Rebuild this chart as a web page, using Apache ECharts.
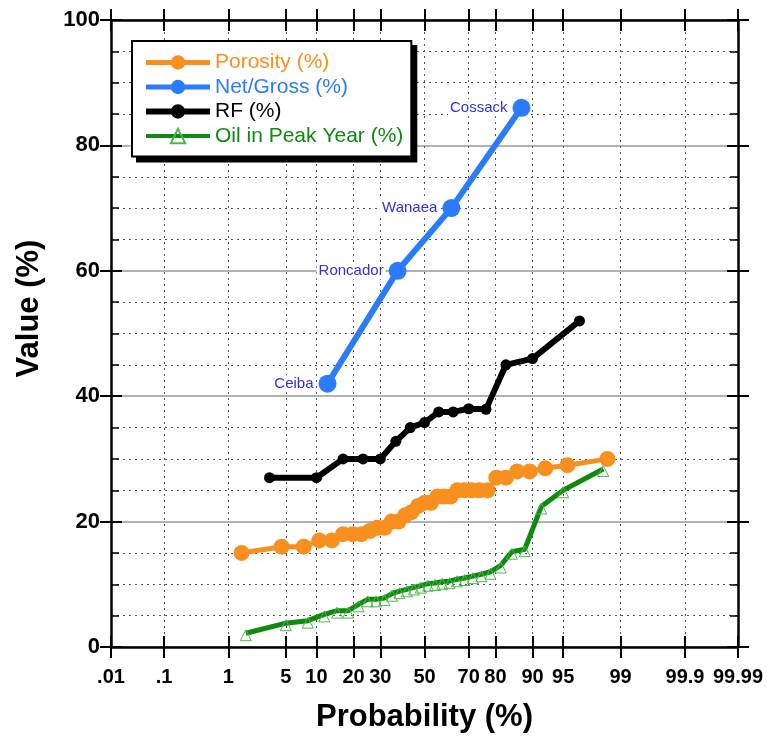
<!DOCTYPE html>
<html>
<head>
<meta charset="utf-8">
<script src="https://cdn.jsdelivr.net/npm/echarts@6/dist/echarts.min.js"></script>
<style>
    html, body { margin: 0; padding: 0; background: #fff; }
    #chart { width: 767px; height: 742px; }
</style>
</head>
<body>
<div id="chart"></div>
<script>
// Probability axis ticks (%)
var probTicks = [0.01, 0.1, 1, 5, 10, 20, 30, 50, 70, 80, 90, 95, 99, 99.9, 99.99];
var probLabels = ['.01', '.1', '1', '5', '10', '20', '30', '50', '70', '80', '90', '95', '99', '99.9', '99.99'];

// Porosity (%)
var porosityProb = [1.5, 4.5, 7.6, 10.6, 13.6, 16.7, 19.7, 22.7, 25.8, 28.8, 31.8, 34.8, 37.9, 40.9, 43.9, 47.0, 50.0,
    53.0, 56.1, 59.1, 62.1, 65.2, 68.2, 71.2, 74.2, 77.3, 80.3, 83.3, 86.4, 89.4, 92.4, 95.5, 98.5];
var porosityVal = [15, 16, 16, 17, 17, 18, 18, 18, 18.5, 19, 19, 20, 20, 21, 21.5, 22.5, 23,
    23, 24, 24, 24, 25, 25, 25, 25, 25, 27, 27, 28, 28, 28.5, 29, 30];

// Net/Gross (%)
var netProb = [12.5, 37.5, 62.5, 87.5];
var netVal = [42, 60, 70, 86];
var netNames = ['Ceiba', 'Roncador', 'Wanaea', 'Cossack'];

// RF (%)
var rfProb = [3.3, 10, 16.7, 23.3, 30, 36.7, 43.3, 50, 56.7, 63.3, 70, 76.7, 83.3, 90, 96.7];
var rfVal = [27, 27, 30, 30, 30, 32.8, 35, 35.8, 37.5, 37.5, 38, 37.9, 45, 46, 52];

// Oil in Peak Year (%)
var oilProb = [1.7, 5, 8.3, 11.7, 15, 18.3, 21.7, 25, 28.3, 31.7, 35, 38.3, 41.7, 45, 48.3,
    51.7, 55, 58.3, 61.7, 65, 68.3, 71.7, 75, 78.3, 81.7, 85, 88.3, 91.7, 95, 98.3];
var oilVal = [2.2, 3.8, 4.2, 5.2, 5.8, 5.8, 6.8, 7.6, 7.6, 7.8, 8.5, 8.9, 9.2, 9.5, 9.8,
    10.1, 10.2, 10.4, 10.5, 10.8, 11.0, 11.3, 11.6, 12.0, 13.0, 15.2, 15.6, 22.4, 25, 28.4];

var seriesNames = ['Porosity (%)', 'Net/Gross (%)', 'RF (%)', 'Oil in Peak Year (%)'];
var seriesColors = ['#f7901e', '#2b7bff', '#000', '#0e8a0e'];

// inverse normal cdf (Acklam) -> normal probability scale
function probit(p) {
    var a = [-3.969683028665376e+01, 2.209460984245205e+02, -2.759285104469687e+02, 1.383577518672690e+02, -3.066479806614716e+01, 2.506628277459239e+00];
    var b = [-5.447609879822406e+01, 1.615858368580409e+02, -1.556989798598866e+02, 6.680131188771972e+01, -1.328068155288572e+01];
    var c = [-7.784894002430293e-03, -3.223964580411365e-01, -2.400758277161838e+00, -2.549732539343734e+00, 4.374664141464968e+00, 2.938163982698783e+00];
    var d = [7.784695709041462e-03, 3.224671290700398e-01, 2.445134137142996e+00, 3.754408661907416e+00];
    var pl = 0.02425, q, r;
    if (p < pl) {
        q = Math.sqrt(-2 * Math.log(p));
        return (((((c[0] * q + c[1]) * q + c[2]) * q + c[3]) * q + c[4]) * q + c[5]) / ((((d[0] * q + d[1]) * q + d[2]) * q + d[3]) * q + 1);
    }
    if (p > 1 - pl) {
        q = Math.sqrt(-2 * Math.log(1 - p));
        return -(((((c[0] * q + c[1]) * q + c[2]) * q + c[3]) * q + c[4]) * q + c[5]) / ((((d[0] * q + d[1]) * q + d[2]) * q + d[3]) * q + 1);
    }
    q = p - 0.5;
    r = q * q;
    return (((((a[0] * r + a[1]) * r + a[2]) * r + a[3]) * r + a[4]) * r + a[5]) * q / (((((b[0] * r + b[1]) * r + b[2]) * r + b[3]) * r + b[4]) * r + 1);
}

function toPairs(probs, vals) {
    return probs.map(function (p, i) { return [probit(p / 100), vals[i]]; });
}

var zTicks = probTicks.map(function (p) { return probit(p / 100); });
var zMin = zTicks[0], zMax = zTicks[zTicks.length - 1];
var font = 'Liberation Sans, Arial, sans-serif';
var dotted = { type: [2, 4], color: '#555', width: 1 };
var legendWidths = [5, 5, 6, 4];

function tickLabel(v) {
    for (var i = 0; i < zTicks.length; i++) {
        if (Math.abs(zTicks[i] - v) < 1e-6) return probLabels[i];
    }
    return '';
}

function xAx(grid, pos, inside, main) {
    return {
        type: 'value', gridIndex: grid, position: pos, min: zMin, max: zMax,
        axisLine: { show: main, onZero: false, lineStyle: { color: '#000', width: 2.5 } },
        axisTick: { show: true, inside: inside, length: 11, customValues: zTicks, lineStyle: { color: '#000', width: 2 } },
        axisLabel: main && pos === 'bottom' ? {
            show: true, customValues: zTicks, formatter: tickLabel, margin: 20,
            color: '#000', fontSize: 20, fontWeight: 'bold', fontFamily: font
        } : { show: false },
        splitLine: { show: main && pos === 'bottom', lineStyle: dotted },
        name: main && pos === 'bottom' ? 'Probability (%)' : '',
        nameLocation: 'middle', nameGap: 55,
        nameTextStyle: { color: '#000', fontSize: 31, fontWeight: 'bold', fontFamily: font }
    };
}

function yAx(grid, pos, inside, main) {
    var isLabel = main && pos === 'left';
    return {
        type: 'value', gridIndex: grid, position: pos, min: 0, max: 100, interval: 20,
        axisLine: { show: main, onZero: false, lineStyle: { color: '#000', width: 2.5 } },
        axisTick: { show: true, inside: inside, length: 11, lineStyle: { color: '#000', width: 2 } },
        minorTick: { show: inside, splitNumber: 4, length: 8, lineStyle: { color: '#000', width: 1.5 } },
        axisLabel: isLabel ? {
            show: true, margin: 11, color: '#000', fontSize: 22, fontWeight: 'bold', fontFamily: font
        } : { show: false },
        splitLine: { show: isLabel, lineStyle: { color: '#999', width: 1.5 } },
        minorSplitLine: { show: isLabel, lineStyle: dotted },
        name: isLabel ? 'Value (%)' : '',
        nameLocation: 'middle', nameGap: 66,
        nameTextStyle: { color: '#000', fontSize: 31, fontWeight: 'bold', fontFamily: font, padding: [0, 0, 0, 50] }
    };
}

// shadow = a black copy of the legend, offset by 5px
function legendBox(left, top, shadow, z) {
    return {
        orient: 'vertical', left: left, top: top, z: z, selectedMode: !shadow,
        itemWidth: 64, itemHeight: 18, itemGap: 3.5,
        padding: [11, 8, 10, 11],
        backgroundColor: shadow ? '#000' : '#fff', borderColor: '#000', borderWidth: 2,
        textStyle: { fontSize: 21, fontFamily: font },
        data: seriesNames.map(function (n, i) {
            var item = { name: n, textStyle: { color: shadow ? '#000' : seriesColors[i] }, lineStyle: { width: legendWidths[i] } };
            if (shadow) {
                item.lineStyle.color = '#000';
                item.itemStyle = { color: '#000', borderColor: '#000' };
            }
            return item;
        })
    };
}

var chart = echarts.init(document.getElementById('chart'));
var gridRect = { left: 111, right: 29, top: 20, bottom: 95, outerBoundsMode: 'none', containLabel: false };

var option = {
    animation: false,
    backgroundColor: '#fff',
    grid: [gridRect, gridRect],
    xAxis: [xAx(0, 'bottom', false, true), xAx(0, 'top', false, true), xAx(1, 'bottom', true, false), xAx(1, 'top', true, false)],
    yAxis: [yAx(0, 'left', false, true), yAx(0, 'right', false, true), yAx(1, 'left', true, false), yAx(1, 'right', true, false)],

    legend: [legendBox(137, 46, true, 5), legendBox(132, 41, false, 6)],

    series: [{
        name: seriesNames[0], type: 'line',
        data: toPairs(porosityProb, porosityVal),
        symbol: 'circle', symbolSize: 16,
        lineStyle: { color: seriesColors[0], width: 5 },
        itemStyle: { color: seriesColors[0] }
    }, {
        name: seriesNames[1], type: 'line',
        data: toPairs(netProb, netVal),
        symbol: 'circle', symbolSize: 18,
        lineStyle: { color: seriesColors[1], width: 6 },
        itemStyle: { color: seriesColors[1] },
        label: {
            show: true, position: 'left', distance: 3,
            formatter: function (p) { return netNames[p.dataIndex]; },
            color: '#3030e0', fontSize: 15, fontFamily: font,
            backgroundColor: '#fff', padding: [1, 2]
        }
    }, {
        name: seriesNames[2], type: 'line',
        data: toPairs(rfProb, rfVal),
        symbol: 'circle', symbolSize: 11,
        lineStyle: { color: seriesColors[2], width: 6 },
        itemStyle: { color: seriesColors[2] }
    }, {
        name: seriesNames[3], type: 'line',
        data: toPairs(oilProb, oilVal),
        symbol: 'triangle', symbolSize: 11, symbolOffset: [0, 2],
        lineStyle: { color: seriesColors[3], width: 5 },
        itemStyle: { color: 'rgba(0,0,0,0)', borderColor: '#4cb84c', borderWidth: 1 }
    }]
};

chart.setOption(option);
</script>
</body>
</html>
